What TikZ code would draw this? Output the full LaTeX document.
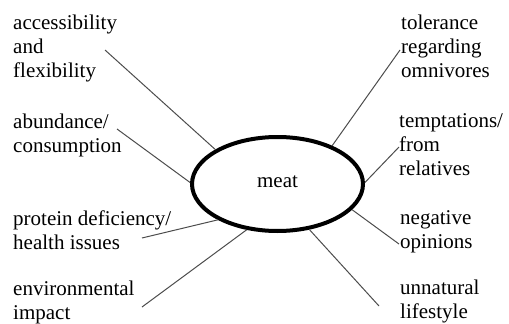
\documentclass[tikz,border=0pt]{standalone}
\usepackage{fontspec}
\setmainfont{Liberation Serif}
\usetikzlibrary{shapes.geometric}

\begin{document}
\begin{tikzpicture}[x=1pt,y=-1pt,
    txt/.style={anchor=base west, align=left, inner sep=0pt,
      font=\fontsize{21}{24}\selectfont},
    spoke/.style={draw=black!70, line width=1pt}]
    \useasboundingbox (0,0) rectangle (509,324);

    % Draw the centre
    \node[ellipse, draw, line width=4pt, minimum width=171pt, minimum height=94pt,
      inner sep=0pt, text depth=4pt, font=\fontsize{21}{24}\selectfont] (meat) at (277.5,184) {meat};

    % Left labels (placed at the baseline of their last line)
    \node[txt] (acc) at (13,77) {accessibility\\and\\flexibility};
    \node[txt] (abund) at (13,152) {abundance/\\consumption};
    \node[txt] (prot) at (13,249) {protein deficiency/\\health issues};
    \node[txt] (env) at (13,319) {environmental\\impact};

    % Right labels
    \node[txt] (tol) at (401,77) {tolerance\\regarding\\omnivores};
    \node[txt] (tempt) at (399,175) {temptations/\\from\\relatives};
    \node[txt] (neg) at (400,248) {negative\\opinions};
    \node[txt] (unnat) at (400,318) {unnatural\\lifestyle};

    % Free ends of the spokes
    \coordinate (acc-end) at (105,50);
    \coordinate (abund-end) at (117,129);
    \coordinate (prot-end) at (142,238);
    \coordinate (env-end) at (142,307);
    \coordinate (tol-end) at (400,50);
    \coordinate (tempt-end) at (399,147);
    \coordinate (neg-end) at (399,244);
    \coordinate (unnat-end) at (379,306);

    % Draw the spokes
    \draw[spoke] (acc-end) -- (meat.151);
    \draw[spoke] (abund-end) -- (meat.179);
    \draw[spoke] (prot-end) -- (meat.211);
    \draw[spoke] (env-end) -- (meat.236);
    \draw[spoke] (tol-end) -- (meat.35);
    \draw[spoke] (tempt-end) -- (meat.1);
    \draw[spoke] (neg-end) -- (meat.341);
    \draw[spoke] (unnat-end) -- (meat.305);
\end{tikzpicture}
\end{document}
